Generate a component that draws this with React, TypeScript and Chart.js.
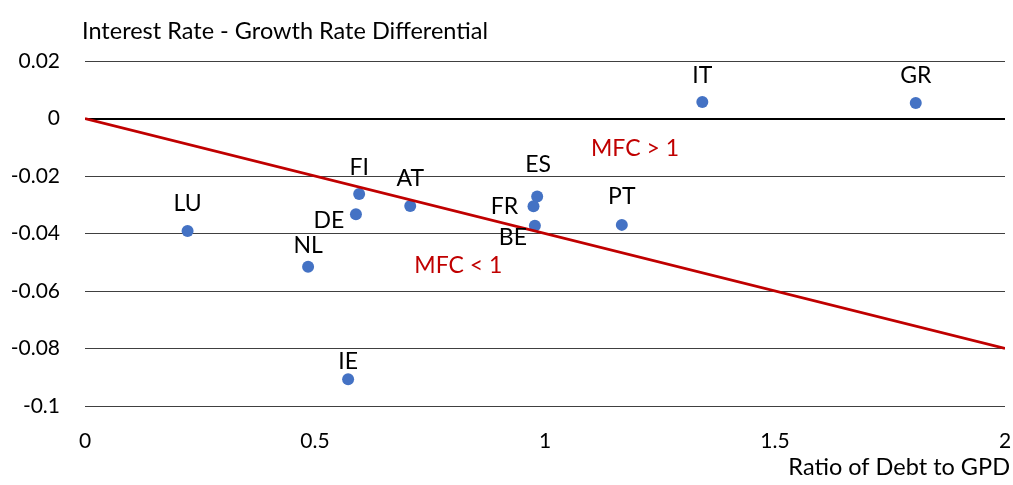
import React, { useEffect, useRef } from "react";
import { Chart, registerables } from "chart.js";

Chart.register(...registerables);

const countries = ["LU", "NL", "FI", "DE", "AT", "FR", "ES", "BE", "IE", "PT", "IT", "GR"];
const debtRatio = [0.223, 0.485, 0.596, 0.589, 0.707, 0.975, 0.983, 0.978, 0.572, 1.167, 1.342, 1.806];
const rateDiff = [-0.0391, -0.0516, -0.0263, -0.0333, -0.0304, -0.0305, -0.0271, -0.0373, -0.0907, -0.037, 0.0057, 0.0054];
// label offsets in pixels (dx, dy) relative to the point
const labelDx = [0, 0, 0, -27, 0, -29, 1, -22, 0, 0, 0, 0];
const labelDy = [-27, -21, -27, 6, -27, 0, -32, 12, -18, -28, -27, -27];

const mfcLineX = [0, 2];
const mfcLineY = [0, -0.08];

const annotations = ["MFC > 1", "MFC < 1"];
const annotationX = [1.1957, 0.8115];
const annotationY = [-0.0103, -0.051];

const xTicks = [0, 0.5, 1, 1.5, 2];
const yTicks = [0.02, 0, -0.02, -0.04, -0.06, -0.08, -0.1];

const yTitle = "Interest Rate - Growth Rate Differential";
const xTitle = "Ratio of Debt to GPD";

const FONT = "Lato, 'Noto Sans', sans-serif";

export default function App() {
  const ref = useRef<HTMLCanvasElement | null>(null);

  useEffect(() => {
    if (!ref.current) return;
    const labelPlugin = {
      id: "labels",
      afterDatasetsDraw(chart: any) {
        const ctx = chart.ctx;
        const xs = chart.scales.x;
        const ys = chart.scales.y;
        ctx.save();
        ctx.textAlign = "center";
        ctx.textBaseline = "middle";
        ctx.font = `23px ${FONT}`;
        ctx.fillStyle = "#000";
        countries.forEach((c, i) => {
          const px = xs.getPixelForValue(debtRatio[i]) + labelDx[i];
          const py = ys.getPixelForValue(rateDiff[i]) + labelDy[i];
          ctx.fillText(c, px, py);
        });
        ctx.fillStyle = "#C00000";
        annotations.forEach((t, i) => {
          ctx.fillText(t, xs.getPixelForValue(annotationX[i]), ys.getPixelForValue(annotationY[i]));
        });
        ctx.fillStyle = "#000";
        ctx.font = `23.5px ${FONT}`;
        ctx.textAlign = "left";
        ctx.fillText(yTitle, 82, 31);
        ctx.textAlign = "right";
        ctx.fillText(xTitle, 1010, 467);
        ctx.restore();
      },
    };

    const chart = new Chart(ref.current, {
      type: "scatter",
      data: {
        datasets: [
          {
            type: "line",
            data: mfcLineX.map((x, i) => ({ x, y: mfcLineY[i] })),
            borderColor: "#C00000",
            borderWidth: 2.75,
            pointRadius: 0,
            fill: false,
          } as any,
          {
            data: debtRatio.map((x, i) => ({ x, y: rateDiff[i] })),
            backgroundColor: "#4472C4",
            borderColor: "#4472C4",
            borderWidth: 0,
            pointRadius: 6,
          },
        ],
      },
      options: {
        animation: false,
        responsive: false,
        maintainAspectRatio: false,
        layout: { padding: { top: 61, right: 8, left: 0, bottom: 0 } },
        plugins: { legend: { display: false }, tooltip: { enabled: false } },
        scales: {
          x: {
            type: "linear",
            min: 0,
            max: 2,
            afterBuildTicks(scale: any) {
              scale.ticks = xTicks.map((v) => ({ value: v }));
            },
            afterFit(scale: any) {
              scale.height = 79;
              scale.paddingLeft = 0;
              scale.paddingRight = 0;
            },
            grid: { display: false, drawTicks: false },
            border: { display: false },
            ticks: {
              padding: 23,
              color: "#000",
              font: { family: FONT, size: 21 },
              callback: (v: any) => String(v),
            },
          },
          y: {
            type: "linear",
            min: -0.1,
            max: 0.02,
            afterBuildTicks(scale: any) {
              scale.ticks = yTicks.map((v) => ({ value: v }));
            },
            afterFit(scale: any) {
              scale.width = 85;
              scale.paddingTop = 0;
              scale.paddingBottom = 0;
            },
            grid: {
              drawTicks: false,
              color: (c: any) => (c.tick && c.tick.value === 0 ? "#000" : "#404040"),
              lineWidth: (c: any) => (c.tick && c.tick.value === 0 ? 2 : 1),
            },
            border: { display: false },
            ticks: {
              padding: 25,
              color: "#000",
              font: { family: FONT, size: 21 },
              callback: (v: any) => String(Math.round(v * 100) / 100),
            },
          },
        },
      },
      plugins: [labelPlugin],
    });
    return () => chart.destroy();
  }, []);

  return (
    <div style={{ position: "fixed", left: 0, top: 0, width: 1013, height: 485, background: "#fff" }}>
      <canvas ref={ref} width={1013} height={485} style={{ width: 1013, height: 485 }} />
    </div>
  );
}
